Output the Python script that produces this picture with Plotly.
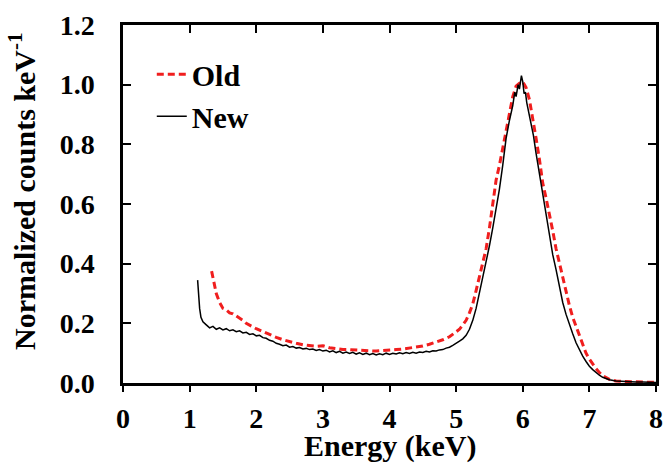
import plotly.graph_objects as go

# ---- data ----
new_energy = [1.12, 1.13, 1.15, 1.17, 1.20, 1.25, 1.30, 1.35, 1.40, 1.45, 1.50, 1.55, 1.60, 1.65, 1.70,
              1.75, 1.80, 1.85, 1.90, 1.95, 2.00, 2.05, 2.10, 2.15, 2.20, 2.25, 2.30, 2.35, 2.40, 2.45,
              2.50, 2.55, 2.60, 2.65, 2.70, 2.75, 2.80, 2.85, 2.90, 2.95, 3.00, 3.05, 3.10, 3.15, 3.20,
              3.25, 3.30, 3.35, 3.40, 3.45, 3.50, 3.55, 3.60, 3.65, 3.70, 3.75, 3.80, 3.85, 3.90, 3.95,
              4.00, 4.05, 4.10, 4.15, 4.20, 4.25, 4.30, 4.35, 4.40, 4.45, 4.50, 4.55, 4.60, 4.65, 4.70,
              4.75, 4.80, 4.85, 4.90, 4.95, 5.00, 5.05, 5.10, 5.15, 5.20, 5.25, 5.30, 5.35, 5.40, 5.45,
              5.50, 5.55, 5.60, 5.65, 5.70, 5.75, 5.80, 5.85, 5.88, 5.90, 5.93, 5.95, 5.98, 6.00, 6.02,
              6.04, 6.06, 6.10, 6.14, 6.16, 6.20, 6.25, 6.30, 6.35, 6.40, 6.45, 6.50, 6.55, 6.60, 6.65,
              6.70, 6.75, 6.80, 6.85, 6.90, 6.95, 7.00, 7.05, 7.10, 7.15, 7.20, 7.30, 7.40, 7.50, 7.60,
              7.70, 7.80, 7.90, 8.00]
new_counts = [0.345, 0.300, 0.250, 0.220, 0.205, 0.195, 0.185, 0.190, 0.180, 0.185, 0.178, 0.182, 0.175, 0.178, 0.172,
              0.175, 0.168, 0.170, 0.163, 0.165, 0.158, 0.160, 0.152, 0.150, 0.143, 0.140, 0.133, 0.130, 0.125, 0.127,
              0.120, 0.122, 0.117, 0.119, 0.114, 0.116, 0.112, 0.114, 0.109, 0.112, 0.107, 0.110, 0.104, 0.108, 0.102,
              0.106, 0.100, 0.104, 0.099, 0.103, 0.097, 0.101, 0.096, 0.100, 0.095, 0.099, 0.094, 0.098, 0.095, 0.100,
              0.096, 0.100, 0.097, 0.101, 0.098, 0.102, 0.099, 0.103, 0.100, 0.104, 0.102, 0.106, 0.104, 0.108, 0.107,
              0.111, 0.112, 0.117, 0.120, 0.126, 0.132, 0.140, 0.148, 0.160, 0.180, 0.210, 0.250, 0.300, 0.350, 0.410,
              0.460, 0.520, 0.580, 0.650, 0.730, 0.820, 0.880, 0.930, 0.975, 0.960, 1.000, 0.985, 1.030, 1.010, 0.970,
              0.975, 0.940, 0.900, 0.860, 0.830, 0.770, 0.700, 0.630, 0.560, 0.490, 0.430, 0.380, 0.320, 0.270, 0.230,
              0.195, 0.165, 0.135, 0.110, 0.090, 0.072, 0.056, 0.045, 0.034, 0.026, 0.019, 0.011, 0.007, 0.005, 0.004,
              0.003, 0.003, 0.002, 0.002]

old_energy = [1.33, 1.36, 1.40, 1.45, 1.50, 1.55, 1.60, 1.65, 1.70, 1.75, 1.80, 1.85, 1.90, 1.95, 2.00,
              2.10, 2.20, 2.30, 2.40, 2.50, 2.60, 2.70, 2.80, 2.90, 3.00, 3.10, 3.20, 3.30, 3.40, 3.50,
              3.60, 3.70, 3.80, 3.90, 4.00, 4.10, 4.20, 4.30, 4.40, 4.50, 4.60, 4.70, 4.80, 4.90, 5.00,
              5.05, 5.10, 5.15, 5.20, 5.25, 5.30, 5.35, 5.40, 5.45, 5.50, 5.55, 5.60, 5.65, 5.70, 5.75,
              5.80, 5.85, 5.90, 5.95, 6.00, 6.05, 6.10, 6.15, 6.20, 6.25, 6.30, 6.35, 6.40, 6.45, 6.50,
              6.55, 6.60, 6.65, 6.70, 6.75, 6.80, 6.85, 6.90, 6.95, 7.00, 7.05, 7.10, 7.15, 7.20, 7.30,
              7.40, 7.50, 7.60, 7.80, 8.00]
old_counts = [0.375, 0.340, 0.300, 0.270, 0.250, 0.245, 0.235, 0.232, 0.225, 0.218, 0.210, 0.200, 0.193, 0.188, 0.182,
              0.172, 0.163, 0.153, 0.145, 0.138, 0.133, 0.128, 0.125, 0.123, 0.125, 0.118, 0.115, 0.112, 0.112, 0.110,
              0.108, 0.108, 0.107, 0.108, 0.110, 0.112, 0.114, 0.117, 0.120, 0.124, 0.130, 0.137, 0.145, 0.155, 0.170,
              0.180, 0.195, 0.210, 0.235, 0.265, 0.310, 0.360, 0.410, 0.450, 0.520, 0.600, 0.680, 0.730, 0.790, 0.850,
              0.910, 0.960, 0.995, 1.005, 1.010, 0.990, 0.950, 0.890, 0.820, 0.750, 0.670, 0.620, 0.570, 0.510, 0.450,
              0.400, 0.350, 0.300, 0.260, 0.220, 0.190, 0.155, 0.125, 0.100, 0.080, 0.062, 0.048, 0.035, 0.024, 0.012,
              0.007, 0.005, 0.004, 0.003, 0.002]

x_ticks = [0, 1, 2, 3, 4, 5, 6, 7, 8]
y_ticks = [0.0, 0.2, 0.4, 0.6, 0.8, 1.0, 1.2]
y_tick_labels = ["0.0", "0.2", "0.4", "0.6", "0.8", "1.0", "1.2"]

FONT = "Liberation Serif, Times New Roman, serif"
FS = 28

fig = go.Figure()
fig.add_trace(go.Scatter(x=old_energy, y=old_counts, mode="lines", name="Old",
                         legendgroup="old",
                         line=dict(color="#f01e1e", width=3, dash="7px,4px")))
fig.add_trace(go.Scatter(x=new_energy, y=new_counts, mode="lines", name="New",
                         legendgroup="new",
                         line=dict(color="#000000", width=1.5)))
# invisible trace on a top axis to draw inward ticks on the top frame
fig.add_trace(go.Scatter(x=[0, 8], y=[0, 0], xaxis="x2", mode="lines",
                         line=dict(width=0), showlegend=False, hoverinfo="skip"))

fig.update_layout(
    width=664, height=463,
    margin=dict(l=123, r=8, t=25, b=80),
    paper_bgcolor="white", plot_bgcolor="white",
    font=dict(family=FONT, size=FS, color="black", weight="bold"),
    showlegend=True,
    legend=dict(x=0.054, y=0.935, xanchor="left", yanchor="top",
                bgcolor="rgba(0,0,0,0)", tracegroupgap=0,
                font=dict(family=FONT, size=30, color="black", weight="bold")),
    xaxis=dict(range=[0, 8], tickvals=x_ticks, ticks="outside", ticklen=6, tickwidth=2,
               tickcolor="black", showline=True, linecolor="black", linewidth=2.5,
               showgrid=False, zeroline=False, ticklabelstandoff=3, automargin=False,
               tickfont=dict(family=FONT, size=FS, weight="bold")),
    xaxis2=dict(range=[0, 8], tickvals=x_ticks, overlaying="x", side="top",
                ticks="inside", ticklen=8, tickwidth=2, tickcolor="black",
                showline=True, linecolor="black", linewidth=2.5, automargin=False,
                showticklabels=False, showgrid=False, zeroline=False),
    yaxis=dict(range=[0, 1.2], tickvals=y_ticks, ticktext=y_tick_labels,
               ticks="inside", ticklen=8, tickwidth=2, tickcolor="black",
               showline=True, linecolor="black", linewidth=2.5, mirror="ticks",
               showgrid=False, zeroline=False, ticklabelstandoff=20, automargin=False,
               tickfont=dict(family=FONT, size=FS, weight="bold")),
    annotations=[
        dict(text="Normalized counts keV<sup>-1</sup>", textangle=-90,
             xref="paper", yref="paper", x=0, y=0.5, xanchor="center", yanchor="middle",
             xshift=-101, yshift=12, showarrow=False,
             font=dict(family=FONT, size=30, color="black", weight="bold")),
        dict(text="Energy (keV)",
             xref="paper", yref="paper", x=0.5, y=0, xanchor="center", yanchor="middle",
             yshift=-63, showarrow=False,
             font=dict(family=FONT, size=30, color="black", weight="bold")),
    ],
)

fig.write_html("out.html", post_script="document.body.style.margin='0';",
               config={"displayModeBar": False})
